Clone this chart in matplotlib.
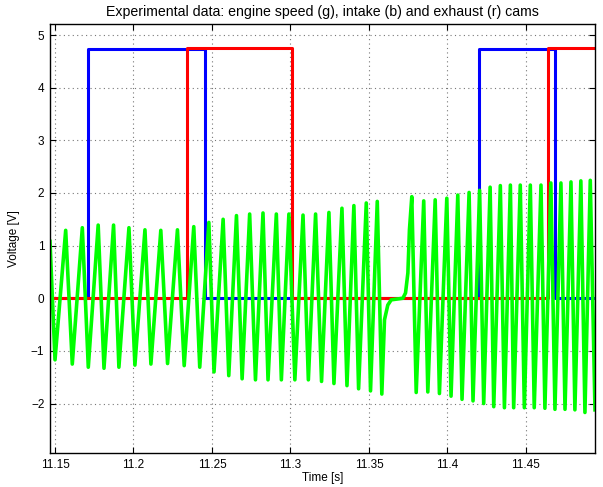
import numpy as np
import matplotlib
matplotlib.use('Agg')
import matplotlib.pyplot as plt

plt.rcParams['font.family'] = ['Liberation Sans', 'DejaVu Sans']
plt.rcParams['font.size'] = 8.5

# engine speed sensor (green): extrema and a few shape points
t_speed = [11.1468, 11.1500, 11.1568, 11.1610, 11.1674, 11.1712, 11.1775, 11.1812,
           11.1873, 11.1907, 11.1971, 11.2009, 11.2073, 11.2111, 11.2174, 11.2217,
           11.2280, 11.2323, 11.2384, 11.2422, 11.2480, 11.2513, 11.2571, 11.2607,
           11.2656, 11.2692, 11.2740, 11.2777, 11.2825, 11.2857, 11.2910, 11.2942,
           11.2990, 11.3028, 11.3080, 11.3114, 11.3160, 11.3198, 11.3245, 11.3277,
           11.3328, 11.3360, 11.3404, 11.3434, 11.3483, 11.3510, 11.3553, 11.3582,
           11.3599, 11.3620, 11.3642, 11.3716, 11.3733, 11.3748, 11.3758, 11.3773,
           11.3801, 11.3849, 11.3875, 11.3922, 11.3949, 11.3996, 11.4023, 11.4066,
           11.4093, 11.4138, 11.4163, 11.4205, 11.4231, 11.4272, 11.4295, 11.4337,
           11.4363, 11.4401, 11.4422, 11.4464, 11.4490, 11.4528, 11.4553, 11.4596,
           11.4621, 11.4659, 11.4685, 11.4723, 11.4749, 11.4787, 11.4812, 11.4850,
           11.4876, 11.4910, 11.4940]
v_speed = [1.08, -1.17, 1.29, -1.25, 1.34, -1.31, 1.39, -1.33,
           1.39, -1.31, 1.34, -1.27, 1.30, -1.25, 1.29, -1.24,
           1.30, -1.28, 1.36, -1.31, 1.44, -1.40, 1.50, -1.47,
           1.57, -1.53, 1.60, -1.55, 1.62, -1.55, 1.60, -1.55,
           1.60, -1.55, 1.58, -1.55, 1.60, -1.58, 1.63, -1.62,
           1.71, -1.66, 1.76, -1.72, 1.81, -1.76, 1.84, -1.82,
           -0.41, -0.13, -0.03, 0.0, 0.10, 0.48, 1.30, 1.93,
           -1.79, 1.85, -1.78, 1.87, -1.81, 1.90, -1.86, 1.96,
           -1.92, 2.01, -1.95, 2.05, -2.00, 2.11, -2.06, 2.14,
           -2.08, 2.15, -2.08, 2.15, -2.08, 2.15, -2.08, 2.15,
           -2.09, 2.19, -2.11, 2.19, -2.11, 2.21, -2.12, 2.23,
           -2.17, 2.24, -2.12]

# cam sensors: switching times and levels
t_intake = [11.1468, 11.1712, 11.1712, 11.2454, 11.2454, 11.4204, 11.4204, 11.4685, 11.4685, 11.4940]
v_intake = [0, 0, 4.74, 4.74, 0, 0, 4.74, 4.74, 0, 0]
t_exhaust = [11.1468, 11.2344, 11.2344, 11.3012, 11.3012, 11.4638, 11.4638, 11.4940]
v_exhaust = [0, 0, 4.75, 4.75, 0, 0, 4.75, 4.75]

fig = plt.figure(figsize=(6.03, 4.87), dpi=100)
ax = fig.add_axes([0.0829, 0.0698, 0.9038, 0.8809])

ax.plot(t_intake, v_intake, color='#0000ff', linewidth=2.2)
ax.plot(t_exhaust, v_exhaust, color='#ff0000', linewidth=2.2)
ax.plot(t_speed, v_speed, color='#00ff00', linewidth=2.6, solid_joinstyle='round')

ax.set_xlim(11.1468, 11.494)
ax.set_ylim(-2.94, 5.21)
ax.set_xticks([11.15, 11.2, 11.25, 11.3, 11.35, 11.4, 11.45])
ax.set_xticklabels(['11.15', '11.2', '11.25', '11.3', '11.35', '11.4', '11.45'])
ax.set_yticks([-2, -1, 0, 1, 2, 3, 4, 5])
ax.set_yticklabels(['\u22122', '\u22121', '0', '1', '2', '3', '4', '5'])

ax.grid(True, linestyle=(0, (1, 3)), color='#777777', linewidth=0.8)
ax.tick_params(direction='in', top=True, right=True, length=4, width=0.8, pad=4)
for s in ax.spines.values():
    s.set_linewidth(1.0)

ax.set_title('Experimental data: engine speed (g), intake (b) and exhaust (r) cams', pad=6)
ax.set_xlabel('Time [s]', labelpad=1)
ax.set_ylabel('Voltage [V]', labelpad=8)

fig.savefig('out.png', dpi=100)
